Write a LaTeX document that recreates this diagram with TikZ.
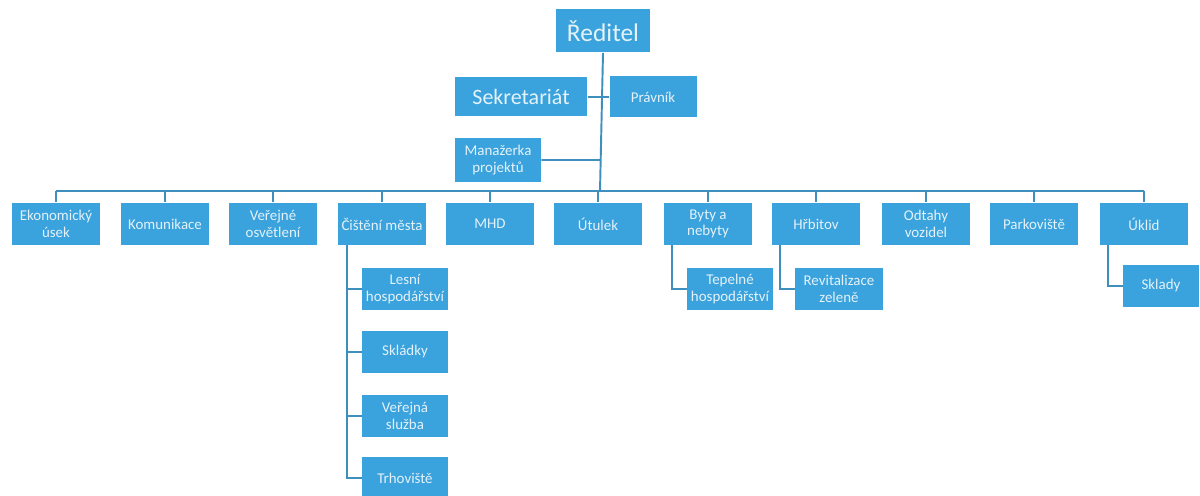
\documentclass[tikz,border=0pt]{standalone}
\usepackage{fontspec}
\setmainfont{Carlito}
\usepackage{tikz}

\definecolor{boxblue}{RGB}{58,162,220}
\definecolor{lineblue}{RGB}{62,143,190}
\definecolor{boxtext}{RGB}{228,242,250}

\begin{document}
\begin{tikzpicture}[x=0.02cm,y=-0.02cm,
    unit/.style={fill=boxblue,text=boxtext,align=center,inner sep=1pt,
      minimum width=1.76cm,minimum height=0.86cm,font=\fontsize{8.5}{9.5}\selectfont},
    big/.style={unit,font=\fontsize{14.5}{16}\selectfont},
    link/.style={draw=lineblue,line width=1.1pt}]
    \useasboundingbox (0,0) rectangle (1200,496);

    \node[big,minimum width=1.9cm] (reditel) at (603,31) {Ředitel};
    \node[big,minimum width=2.66cm,minimum height=0.78cm,font=\fontsize{12.5}{14}\selectfont] (sekretariat) at (521,97) {Sekretariát};
    \node[unit,minimum width=1.74cm,minimum height=0.82cm] (pravnik) at (653,97) {Právník};
    \node[unit,minimum width=1.72cm,minimum height=0.88cm] (manazerka) at (498,160) {Manažerka\\projektů};

    \node[unit] (ekonom) at (56,224) {Ekonomický\\úsek};
    \node[unit] (komun) at (165,224) {Komunikace};
    \node[unit] (osvetleni) at (273,224) {Veřejné\\osvětlení};
    \node[unit] (cisteni) at (382,224) {Čištění města};
    \node[unit] (mhd) at (490,224) {MHD};
    \node[unit] (utulek) at (598,224) {Útulek};
    \node[unit] (byty) at (708,224) {Byty a\\nebyty};
    \node[unit] (hrbitov) at (816,224) {Hřbitov};
    \node[unit] (odtahy) at (926,224) {Odtahy\\vozidel};
    \node[unit] (parkoviste) at (1034,224) {Parkoviště};
    \node[unit] (uklid) at (1144,224) {Úklid};

    \node[unit,minimum width=1.72cm,minimum height=0.84cm] (lesni) at (405,289) {Lesní\\hospodářství};
    \node[unit,minimum width=1.72cm,minimum height=0.84cm] (skladky) at (405,352) {Skládky};
    \node[unit,minimum width=1.72cm,minimum height=0.84cm] (sluzba) at (405,416) {Veřejná\\služba};
    \node[unit,minimum width=1.72cm,minimum height=0.84cm] (trhoviste) at (405,478) {Trhoviště};
    \node[unit,minimum width=1.72cm,minimum height=0.84cm] (tepelne) at (730,289) {Tepelné\\hospodářství};
    \node[unit,minimum width=1.76cm,minimum height=0.84cm] (revital) at (839,289) {Revitalizace\\zeleně};
    \node[unit,minimum width=1.52cm,minimum height=0.86cm] (sklady) at (1161,286) {Sklady};

    \coordinate (bus) at (600,191);
    \coordinate (busL) at (56,191);
    \coordinate (busR) at (1144,191);
    \coordinate (cist) at (347,245);
    \coordinate (byt) at (672,245);
    \coordinate (hrb) at (780,245);
    \coordinate (ukl) at (1108,245);

    \draw[link] (reditel.south) -- (bus)
          (sekretariat.east) -- (pravnik.west)
          (manazerka.east) -- (manazerka.east -| bus)
          (busL) -- (busR);
    \foreach \n in {ekonom,komun,osvetleni,cisteni,mhd,utulek,byty,hrbitov,odtahy,parkoviste,uklid}
      \draw[link] (\n.north) -- (\n.north |- bus);
    \draw[link] (cist) |- (trhoviste.west);
    \foreach \n in {lesni,skladky,sluzba}
      \draw[link] (\n.west) -- (\n.west -| cist);
    \draw[link] (byt) |- (tepelne.west)
          (hrb) |- (revital.west)
          (ukl) |- (sklady.west);

  \end{tikzpicture}
\end{document}
